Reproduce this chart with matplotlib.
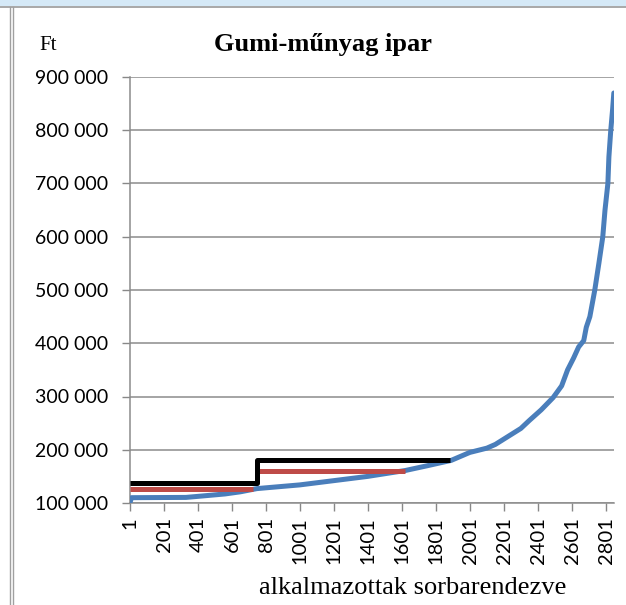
import matplotlib
matplotlib.use("Agg")
import matplotlib.pyplot as plt
from matplotlib.lines import Line2D
from matplotlib.patches import Rectangle

# ---- data ----
rank = [1, 10, 330, 420, 560, 650, 747, 800, 1000, 1100, 1200, 1400, 1500, 1620,
        1750, 1890, 2000, 2100, 2150, 2220, 2300, 2350, 2420, 2490, 2540, 2575,
        2610, 2640, 2670, 2685, 2706, 2735, 2759, 2782, 2795, 2812, 2818, 2829,
        2840, 2847]
wage = [101000, 110000, 110500, 113000, 117000, 121000, 127000, 128500, 134000,
        138000, 142000, 150000, 155000, 161000, 170000, 180000, 195000, 203000,
        210000, 224000, 240000, 255000, 275000, 298000, 320000, 350000, 372000,
        393000, 405000, 430000, 450000, 500000, 550000, 600000, 650000, 700000,
        750000, 800000, 840000, 870000]

red_x = [[1, 725], [760, 1618]]
red_y = [[127000, 127000], [161000, 161000]]

black_x = [1, 747, 747, 1885]
black_y = [138000, 138000, 180000, 180000]

xticks = list(range(1, 2802, 200))
yticks = list(range(100000, 900001, 100000))

title = "Gumi-műnyag ipar"
xlabel = "alkalmazottak sorbarendezve"
ylabel = "Ft"

# ---- figure ----
W, H = 626, 605
fig = plt.figure(figsize=(W / 100, H / 100), dpi=100)

# page decorations (Word screenshot frame)
fig.patches.append(Rectangle((0, 1 - 6 / H), 1, 6 / H, transform=fig.transFigure,
                             facecolor="#d5e9f7", edgecolor="none", zorder=0))
fig.lines.append(Line2D([0, 1], [1 - 7 / H, 1 - 7 / H], transform=fig.transFigure,
                        color="#9a9a9a", lw=1.2))
for xx in (9.5, 12.5):
    fig.lines.append(Line2D([xx / W, xx / W], [0, 1 - 7 / H], transform=fig.transFigure,
                            color="#a0a0a0", lw=1.0))

ax = fig.add_axes([130 / W, 1 - 503 / H, 484 / W, 426 / H])

ax.plot(rank, wage, color="#4a7ebb", lw=3.6, solid_capstyle="round",
        solid_joinstyle="round", zorder=3)
for xs, ys in zip(red_x, red_y):
    ax.plot(xs, ys, color="#be4b48", lw=3.6, solid_capstyle="butt", zorder=4)
ax.plot(black_x, black_y, color="black", lw=3.6, solid_capstyle="butt", zorder=5)

ax.set_xlim(1, 2848)
ax.set_ylim(100000, 900000)
ax.set_xticks(xticks)
ax.set_xticklabels([str(t) for t in xticks], rotation=90, fontsize=14.5,
                   family="Lato")
ax.set_yticks(yticks)
ax.set_yticklabels([f"{t:,}".replace(",", " ") for t in yticks], fontsize=14,
                   family="Lato")
ax.tick_params(axis="both", direction="out", length=6, width=1, color="#888888")
ax.tick_params(axis="y", pad=10)
ax.tick_params(axis="x", pad=4)
ax.grid(axis="y", color="#8c8c8c", lw=1.1)
ax.set_axisbelow(True)
for s in ("top", "right"):
    ax.spines[s].set_visible(False)
for s in ("left", "bottom"):
    ax.spines[s].set_color("#8c8c8c")
    ax.spines[s].set_linewidth(1.1)

fig.text(323 / W, 1 - 45 / H, title, ha="center", va="center", fontsize=19,
         fontweight="bold", family="Liberation Serif")
fig.text(48 / W, 1 - 45 / H, ylabel, ha="center", va="center", fontsize=15,
         family="Liberation Serif")
fig.text(413 / W, 1 - 588 / H, xlabel, ha="center", va="center", fontsize=19,
         family="Liberation Serif")

fig.savefig("out.png", dpi=100, facecolor="white")
